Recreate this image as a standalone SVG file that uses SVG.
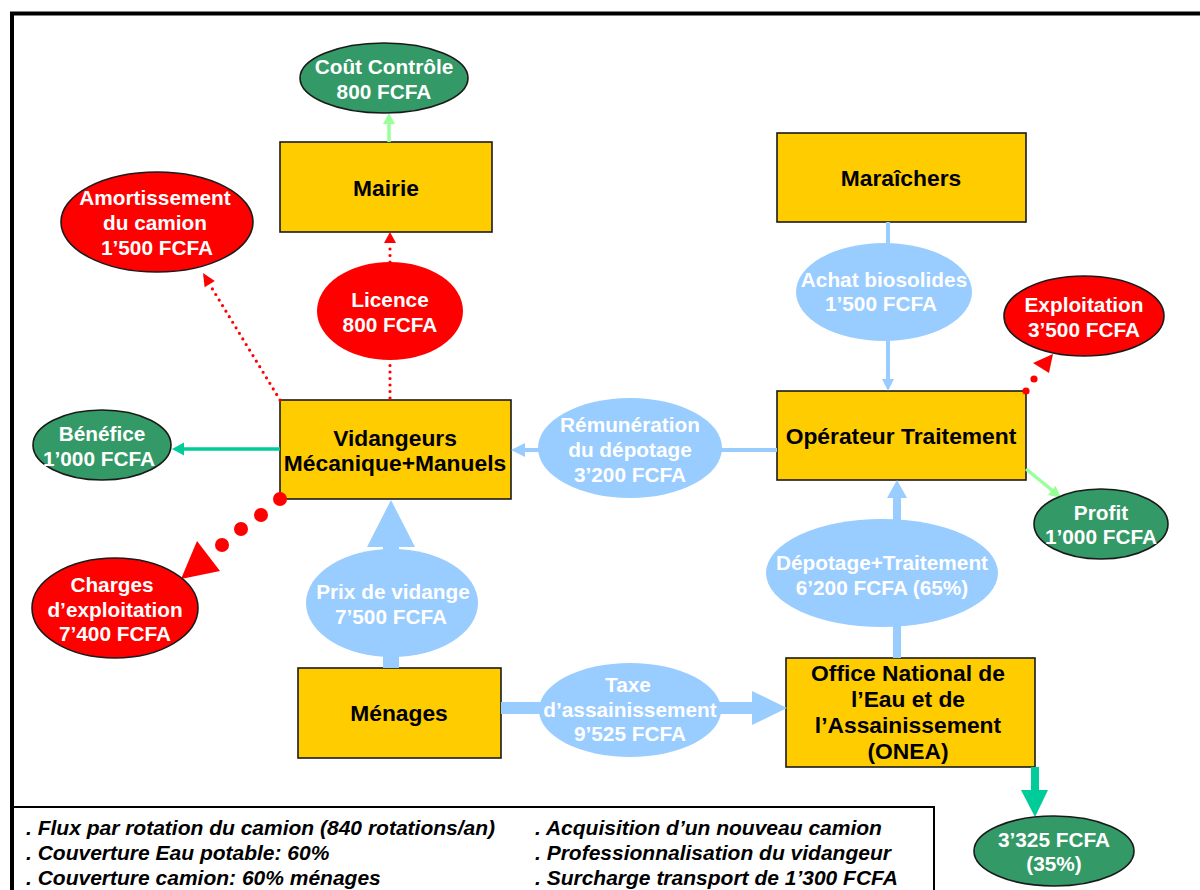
<svg xmlns="http://www.w3.org/2000/svg" width="1200" height="890" viewBox="0 0 1200 890">
  <style>
    .box { fill: #ffcc00; stroke: #1a1a1a; stroke-width: 1.6; }
    .btxt { font-family: "Liberation Sans", Arial, sans-serif; font-weight: bold; font-size: 22.8px; fill: #000; text-anchor: middle; }
    .etxt { font-family: "Liberation Sans", Arial, sans-serif; font-weight: bold; font-size: 20.8px; fill: #fff; text-anchor: middle; }
    .red { fill: #ff0000; stroke: #1a1a1a; stroke-width: 1.6; }
    .red-nb { fill: #ff0000; }
    .green { fill: #339966; stroke: #1a1a1a; stroke-width: 1.6; }
    .blue { fill: #99ccff; }
    .legend { font-family: "Liberation Sans", Arial, sans-serif; font-weight: bold; font-style: italic; font-size: 21px; fill: #000; }
    .dots { fill: none; stroke: #ff0000; stroke-width: 3.2; stroke-linecap: round; stroke-dasharray: 0 6.5; }
  </style>

  <rect x="0" y="0" width="1200" height="890" fill="#ffffff"/>

  <!-- outer frame and legend panel -->
  <path d="M12 890 V13.5 H1200" fill="none" stroke="#000" stroke-width="4"/>
  <path d="M12 807 H934 V890" fill="none" stroke="#000" stroke-width="2"/>

  <!-- rectangular actors -->
  <g id="mairie">
    <rect class="box" x="280" y="142" width="212" height="90"/>
    <text class="btxt" x="386" y="196">Mairie</text>
  </g>
  <g id="maraichers">
    <rect class="box" x="777" y="133" width="249" height="89"/>
    <text class="btxt" x="901" y="186">Maraîchers</text>
  </g>
  <g id="vidangeurs">
    <rect class="box" x="280" y="400" width="231" height="99"/>
    <text class="btxt" x="395" y="446">Vidangeurs</text>
    <text class="btxt" x="395" y="471">Mécanique+Manuels</text>
  </g>
  <g id="operateur">
    <rect class="box" x="777" y="391" width="249" height="89"/>
    <text class="btxt" x="901" y="444">Opérateur Traitement</text>
  </g>
  <g id="menages">
    <rect class="box" x="298" y="668" width="203" height="90"/>
    <text class="btxt" x="399" y="721">Ménages</text>
  </g>
  <g id="onea">
    <rect class="box" x="786" y="658" width="249" height="109"/>
    <text class="btxt" x="908" y="681">Office National de</text>
    <text class="btxt" x="908" y="707">l’Eau et de</text>
    <text class="btxt" x="908" y="733">l’Assainissement</text>
    <text class="btxt" x="908" y="759">(ONEA)</text>
  </g>

  <!-- flows between actors -->
  <g id="connectors">
    <!-- Mairie to control cost -->
    <line x1="389" y1="142" x2="389" y2="123" stroke="#99ff99" stroke-width="3.5"/>
    <polygon points="389,113 383,124 395,124" fill="#99ff99"/>

    <!-- licence fee (dotted red) -->
    <line class="dots" x1="390" y1="398" x2="390" y2="362"/>
    <line class="dots" x1="390" y1="262" x2="390" y2="244"/>
    <polygon points="390,232 384,243 396,243" fill="#ff0000"/>

    <!-- truck depreciation (dotted red) -->
    <line class="dots" x1="280" y1="400" x2="210" y2="285"/>
    <polygon points="203,273 214.8,281 204.6,287.2" fill="#ff0000"/>

    <!-- operating charges (large red dots) -->
    <circle cx="280" cy="499" r="7" fill="#ff0000"/>
    <circle cx="261" cy="515" r="7" fill="#ff0000"/>
    <circle cx="241" cy="529" r="7" fill="#ff0000"/>
    <circle cx="222" cy="545" r="7" fill="#ff0000"/>
    <polygon points="197,541 220,571 181,579" fill="#ff0000"/>

    <!-- profit of the emptiers -->
    <line x1="280" y1="449" x2="183" y2="449" stroke="#00cc99" stroke-width="3.5"/>
    <polygon points="172,449 184,442.5 184,455.5" fill="#00cc99"/>

    <!-- dumping remuneration -->
    <line x1="777" y1="450" x2="522" y2="450" stroke="#99ccff" stroke-width="4"/>
    <polygon points="511,450 525,443 525,457" fill="#99ccff"/>

    <!-- biosolids purchase -->
    <line x1="888" y1="222" x2="888" y2="381" stroke="#99ccff" stroke-width="4"/>
    <polygon points="888,391 882,379 894,379" fill="#99ccff"/>

    <!-- treatment operating costs (dotted red) -->
    <circle cx="1026" cy="391" r="3.6" fill="#ff0000"/>
    <circle cx="1034" cy="379" r="3.6" fill="#ff0000"/>
    <polygon points="1053,354 1033,363 1049,373" fill="#ff0000"/>

    <!-- treatment profit -->
    <line x1="1026" y1="469" x2="1053" y2="491" stroke="#99ff99" stroke-width="3.5"/>
    <polygon points="1061,498 1048,495 1055.6,485.7" fill="#99ff99"/>

    <!-- emptying price (households to emptiers) -->
    <path d="M383 668 V547 H367 L391 500 L415 547 H399 V668 Z" fill="#99ccff"/>

    <!-- dumping + treatment (ONEA to operator) -->
    <path d="M893 658 V498 H887 L897 480 L907 498 H901 V658 Z" fill="#99ccff"/>

    <!-- sanitation tax (households to ONEA) -->
    <path d="M501 702 H752 V691 L787 708 L752 725 V714 H501 Z" fill="#99ccff"/>

    <!-- ONEA remainder -->
    <path d="M1031 767 V790 H1021 L1035 817 L1048 790 H1039 V767 Z" fill="#00cc99"/>
  </g>

  <!-- money amounts -->
  <g id="cout-controle">
    <ellipse class="green" cx="384" cy="78" rx="84" ry="35"/>
    <text class="etxt" x="384" y="74">Coût Contrôle</text>
    <text class="etxt" x="384" y="99">800 FCFA</text>
  </g>
  <g id="amortissement">
    <ellipse class="red" cx="157" cy="222" rx="96" ry="50"/>
    <text class="etxt" x="155" y="205">Amortissement</text>
    <text class="etxt" x="155" y="230">du camion</text>
    <text class="etxt" x="157" y="255">1’500 FCFA</text>
  </g>
  <g id="licence">
    <ellipse class="red-nb" cx="390" cy="311" rx="73" ry="49"/>
    <text class="etxt" x="390" y="307">Licence</text>
    <text class="etxt" x="390" y="332">800 FCFA</text>
  </g>
  <g id="benefice">
    <ellipse class="green" cx="102" cy="445" rx="69" ry="35"/>
    <text class="etxt" x="102" y="441">Bénéfice</text>
    <text class="etxt" x="99" y="466">1’000 FCFA</text>
  </g>
  <g id="charges">
    <ellipse class="red" cx="115" cy="608" rx="83" ry="50"/>
    <text class="etxt" x="112" y="592">Charges</text>
    <text class="etxt" x="115" y="617">d’exploitation</text>
    <text class="etxt" x="115" y="641">7’400 FCFA</text>
  </g>
  <g id="prix-vidange">
    <ellipse class="blue" cx="392" cy="603" rx="86" ry="54"/>
    <text class="etxt" x="393" y="599">Prix de vidange</text>
    <text class="etxt" x="391" y="624">7’500 FCFA</text>
  </g>
  <g id="taxe">
    <ellipse class="blue" cx="630" cy="710" rx="91" ry="47"/>
    <text class="etxt" x="628" y="692">Taxe</text>
    <text class="etxt" x="630" y="717">d’assainissement</text>
    <text class="etxt" x="630" y="741">9’525 FCFA</text>
  </g>
  <g id="remuneration">
    <ellipse class="blue" cx="630" cy="448" rx="92" ry="50"/>
    <text class="etxt" x="630" y="432">Rémunération</text>
    <text class="etxt" x="630" y="457">du dépotage</text>
    <text class="etxt" x="630" y="482">3’200 FCFA</text>
  </g>
  <g id="achat">
    <ellipse class="blue" cx="884" cy="292" rx="88" ry="49"/>
    <text class="etxt" x="884" y="287">Achat biosolides</text>
    <text class="etxt" x="881" y="311">1’500 FCFA</text>
  </g>
  <g id="exploitation">
    <ellipse class="red" cx="1084" cy="316" rx="80" ry="40"/>
    <text class="etxt" x="1084" y="312">Exploitation</text>
    <text class="etxt" x="1084" y="337">3’500 FCFA</text>
  </g>
  <g id="depotage">
    <ellipse class="blue" cx="882" cy="573" rx="116" ry="54"/>
    <text class="etxt" x="882" y="570">Dépotage+Traitement</text>
    <text class="etxt" x="882" y="595">6’200 FCFA (65%)</text>
  </g>
  <g id="profit">
    <ellipse class="green" cx="1101" cy="524" rx="67" ry="35"/>
    <text class="etxt" x="1101" y="520">Profit</text>
    <text class="etxt" x="1101" y="544">1’000 FCFA</text>
  </g>
  <g id="reste-onea">
    <ellipse class="green" cx="1054" cy="851" rx="80" ry="35"/>
    <text class="etxt" x="1054" y="847">3’325 FCFA</text>
    <text class="etxt" x="1054" y="871">(35%)</text>
  </g>

  <!-- notes -->
  <g id="notes">
    <text class="legend" x="26" y="835">. Flux par rotation du camion (840 rotations/an)</text>
    <text class="legend" x="26" y="860">. Couverture Eau potable: 60%</text>
    <text class="legend" x="26" y="885">. Couverture camion: 60% ménages</text>
    <text class="legend" x="535" y="835">. Acquisition d’un nouveau camion</text>
    <text class="legend" x="535" y="860">. Professionnalisation du vidangeur</text>
    <text class="legend" x="535" y="885">. Surcharge transport de 1’300 FCFA</text>
  </g>
</svg>
